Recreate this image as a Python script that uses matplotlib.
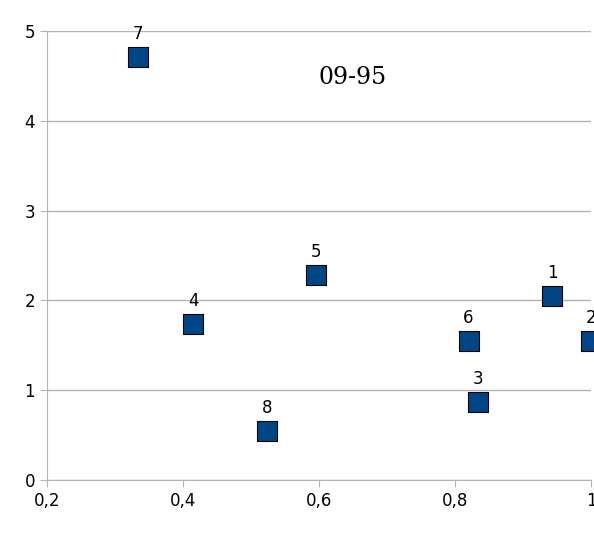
import matplotlib
matplotlib.use("Agg")
import matplotlib.pyplot as plt
from matplotlib.ticker import FuncFormatter

labels = ["1", "2", "3", "4", "5", "6", "7", "8"]
xs = [0.943, 1.0, 0.834, 0.415, 0.596, 0.82, 0.334, 0.524]
ys = [2.05, 1.55, 0.87, 1.74, 2.28, 1.55, 4.71, 0.55]

fig = plt.figure(figsize=(5.94, 5.36), dpi=100)
ax = fig.add_axes([0.079, 0.1045, 0.916, 0.8375])
ax.set_xlim(0.2, 1.0)
ax.set_ylim(0, 5)
ax.set_xticks([0.2, 0.4, 0.6, 0.8, 1.0])
ax.set_yticks(range(6))
ax.xaxis.set_major_formatter(FuncFormatter(lambda v, p: ("%g" % round(v, 1)).replace(".", ",")))
ax.grid(axis="y", color="#b3b3b3", lw=1)
ax.set_axisbelow(True)
for s in ["top", "right"]:
    ax.spines[s].set_visible(False)
for s in ["left", "bottom"]:
    ax.spines[s].set_color("#b3b3b3")
ax.tick_params(colors="#b3b3b3", labelcolor="black", labelsize=12, length=5)
ax.scatter(xs, ys, marker="s", s=200, color="#004586", edgecolor="black", lw=0.8, zorder=3, clip_on=False)
for x, y, l in zip(xs, ys, labels):
    ax.annotate(l, (x, y), xytext=(0, 13), textcoords="offset points", ha="center", fontsize=12, annotation_clip=False)
ax.text(0.65, 4.48, "09-95", fontsize=17, family="DejaVu Serif", ha="center", va="center")
fig.savefig("out.png", dpi=100)
